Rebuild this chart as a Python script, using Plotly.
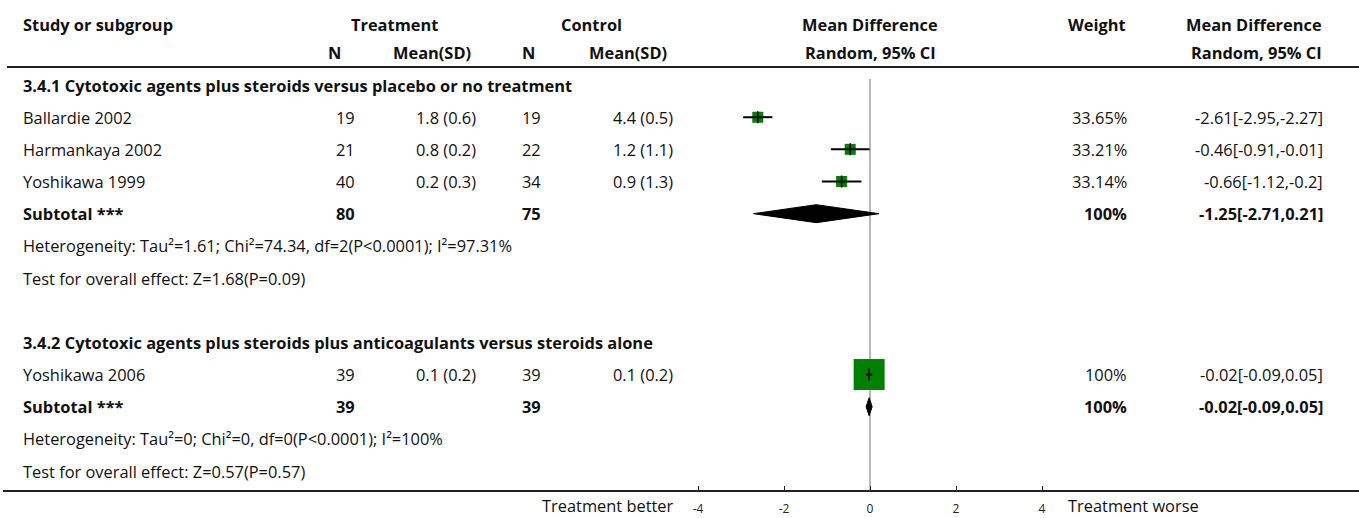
import plotly.graph_objects as go

# ---------------- data ----------------
group_titles = ["3.4.1 Cytotoxic agents plus steroids versus placebo or no treatment",
                "3.4.2 Cytotoxic agents plus steroids plus anticoagulants versus steroids alone"]

study_names = ["Ballardie 2002", "Harmankaya 2002", "Yoshikawa 1999", "Yoshikawa 2006"]
study_group = [0, 0, 0, 1]
trt_n = [19, 21, 40, 39]
trt_msd = ["1.8 (0.6)", "0.8 (0.2)", "0.2 (0.3)", "0.1 (0.2)"]
ctl_n = [19, 22, 34, 39]
ctl_msd = ["4.4 (0.5)", "1.2 (1.1)", "0.9 (1.3)", "0.1 (0.2)"]
md = [-2.61, -0.46, -0.66, -0.02]
md_lo = [-2.95, -0.91, -1.12, -0.09]
md_hi = [-2.27, -0.01, -0.2, 0.05]
weight = ["33.65%", "33.21%", "33.14%", "100%"]
md_text = ["-2.61[-2.95,-2.27]", "-0.46[-0.91,-0.01]", "-0.66[-1.12,-0.2]", "-0.02[-0.09,0.05]"]
marker_px = [11, 11, 11, 31]

sub_trt_n = [80, 39]
sub_ctl_n = [75, 39]
sub_md = [-1.25, -0.02]
sub_lo = [-2.71, -0.09]
sub_hi = [0.21, 0.05]
sub_weight = ["100%", "100%"]
sub_text = ["-1.25[-2.71,0.21]", "-0.02[-0.09,0.05]"]
heterogeneity = ["Heterogeneity: Tau²=1.61; Chi²=74.34, df=2(P<0.0001); I²=97.31%",
                 "Heterogeneity: Tau²=0; Chi²=0, df=0(P<0.0001); I²=100%"]
overall = ["Test for overall effect: Z=1.68(P=0.09)",
           "Test for overall effect: Z=0.57(P=0.57)"]

tick_vals = [-4, -2, 0, 2, 4]
tick_text = ["-4", "-2", "0", "2", "4"]

# ---------------- layout helpers ----------------
W, H = 1359, 518
FONT = "'Open Sans', sans-serif"
FS = 16.4
ROW0, ROWH = 85, 32.17
PX_PER_UNIT = 43.0
X0_PX = 870
XR = 4.6
dom = [(X0_PX - XR * PX_PER_UNIT) / W, (X0_PX + XR * PX_PER_UNIT) / W]

ann = []


def txt(px, y, s, anchor="left", bold=False, size=FS, color="#111", yanchor="middle"):
    ann.append(dict(x=px / W, y=y, xref="paper", yref="y", text=("<b>%s</b>" % s) if bold else s,
                    showarrow=False, xanchor=anchor, yanchor=yanchor, borderpad=0,
                    font=dict(family=FONT, size=size, color=color)))


LX = 22
# headers
H1, H2 = 24, 52
txt(LX, H1, "Study or subgroup", bold=True)
txt(394, H1, "Treatment", "center", True)
txt(591, H1, "Control", "center", True)
txt(870, H1, "Mean Difference", "center", True)
txt(1127, H1, "Weight", "right", True)
txt(1323, H1, "Mean Difference", "right", True)
txt(342, H2, "N", "right", True)
txt(472, H2, "Mean(SD)", "right", True)
txt(536, H2, "N", "right", True)
txt(668, H2, "Mean(SD)", "right", True)
txt(870, H2, "Random, 95% CI", "center", True)
txt(1323, H2, "Random, 95% CI", "right", True)

fig = go.Figure()

row = 0
for g in range(2):
    y = ROW0 + row * ROWH
    txt(LX, y, group_titles[g], bold=True)
    row += 1
    for i in range(len(study_names)):
        if study_group[i] != g:
            continue
        y = ROW0 + row * ROWH
        txt(LX, y, study_names[i])
        txt(356, y, str(trt_n[i]), "right")
        txt(477, y, trt_msd[i], "right")
        txt(542, y, str(ctl_n[i]), "right")
        txt(674, y, ctl_msd[i], "right")
        txt(1128, y, weight[i], "right")
        txt(1324, y, md_text[i], "right")
        fig.add_trace(go.Scatter(x=[md[i]], y=[y], mode="markers",
                                 marker=dict(symbol="square", size=marker_px[i], color="#008000",
                                             line=dict(width=0)),
                                 hoverinfo="skip"))
        fig.add_trace(go.Scatter(x=[md_lo[i], md_hi[i]], y=[y, y], mode="lines",
                                 line=dict(color="black", width=2), hoverinfo="skip"))
        fig.add_trace(go.Scatter(x=[md[i], md[i]], y=[y - 6, y + 6], mode="lines",
                                 line=dict(color="black", width=1.5), hoverinfo="skip"))
        row += 1
    y = ROW0 + row * ROWH
    txt(LX, y, "Subtotal ***", bold=True)
    txt(356, y, str(sub_trt_n[g]), "right", True)
    txt(542, y, str(sub_ctl_n[g]), "right", True)
    txt(1128, y, sub_weight[g], "right", True)
    txt(1324, y, sub_text[g], "right", True)
    hh = 9
    fig.add_trace(go.Scatter(x=[sub_lo[g], sub_md[g], sub_hi[g], sub_md[g], sub_lo[g]],
                             y=[y, y - hh, y, y + hh, y], mode="lines", fill="toself",
                             fillcolor="black", line=dict(color="black", width=1), hoverinfo="skip"))
    row += 1
    txt(LX, ROW0 + row * ROWH, heterogeneity[g])
    row += 1
    txt(LX, ROW0 + row * ROWH, overall[g])
    row += 2

AX_Y = 491
txt(675, 518, "Treatment better", "right", yanchor="bottom")
txt(1067, 518, "Treatment worse", "left", yanchor="bottom")

shapes = [
    dict(type="line", xref="paper", yref="y", x0=7 / W, x1=1, y0=67, y1=67,
         line=dict(color="#222", width=2)),
    dict(type="line", xref="paper", yref="y", x0=3 / W, x1=1, y0=AX_Y, y1=AX_Y,
         line=dict(color="#222", width=2)),
    dict(type="line", xref="x", yref="y", x0=0, x1=0, y0=79, y1=AX_Y,
         line=dict(color="#8a8a8a", width=1.2), layer="below"),
]

fig.update_layout(
    width=W, height=H, margin=dict(l=0, r=0, t=0, b=0),
    paper_bgcolor="white", plot_bgcolor="rgba(0,0,0,0)",
    showlegend=False, annotations=ann, shapes=shapes,
    xaxis=dict(domain=dom, range=[-XR, XR], tickvals=tick_vals, ticktext=tick_text,
               showgrid=False, zeroline=False, showline=False, ticks="inside", ticklen=5,
               tickcolor="#222", tickwidth=1, anchor="free", position=(H - AX_Y) / H,
               ticklabelstandoff=9,
               tickfont=dict(family=FONT, size=12, color="#222"), fixedrange=True),
    yaxis=dict(domain=[0, 1], range=[H, 0], visible=False, fixedrange=True),
)

fig.write_html("out.html")
